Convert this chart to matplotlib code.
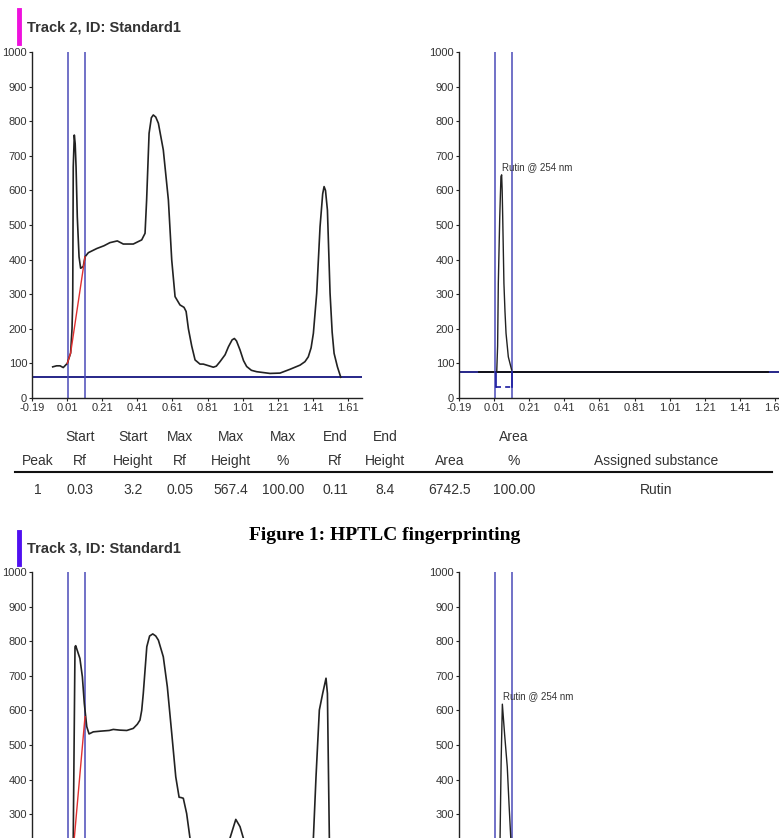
import matplotlib.pyplot as plt
from matplotlib.lines import Line2D

W, H = 779, 838

# ---- data ----
rf_ticks = [-0.19, 0.01, 0.21, 0.41, 0.61, 0.81, 1.01, 1.21, 1.41, 1.61]
rf_labels = ["-0.19", "0.01", "0.21", "0.41", "0.61", "0.81", "1.01", "1.21", "1.41", "1.61"]
au_ticks = [0, 100, 200, 300, 400, 500, 600, 700, 800, 900, 1000]

# Track 2 full scan
t2_rf = [-0.072, -0.05, -0.03, -0.012, 0.011, 0.03, 0.038, 0.042, 0.045, 0.051, 0.056,
         0.061, 0.068, 0.078, 0.087, 0.102, 0.112, 0.131, 0.179, 0.22, 0.254, 0.296,
         0.33, 0.387, 0.435, 0.454, 0.463, 0.477, 0.49, 0.501, 0.515, 0.53, 0.558,
         0.587, 0.606, 0.625, 0.653, 0.676, 0.688, 0.701, 0.72, 0.739, 0.767, 0.786,
         0.824, 0.843, 0.86, 0.881, 0.91, 0.929, 0.95, 0.963, 0.975, 0.995, 1.015,
         1.033, 1.06, 1.09, 1.166, 1.223, 1.28, 1.337, 1.365, 1.384, 1.4, 1.413,
         1.432, 1.451, 1.466, 1.474, 1.482, 1.493, 1.508, 1.52, 1.531, 1.55, 1.569]
t2_h = [90, 93, 93, 88, 100, 130, 200, 283, 668, 760, 735,
        668, 524, 408, 375, 380, 408, 420, 432, 440, 449, 454,
        445, 445, 457, 476, 572, 765, 810, 818, 812, 794, 717,
        572, 399, 293, 269, 262, 250, 200, 150, 110, 98, 98,
        92, 89, 92, 105, 125, 148, 168, 172, 165, 139, 108,
        91, 80, 76, 71, 72, 83, 95, 105, 119, 145, 187,
        303, 495, 590, 611, 600, 543, 303, 190, 129, 90, 60]
t2_base_rf = [0.011, 0.03, 0.112]
t2_base_h = [100, 130, 408]
t2_cut = [0.015, 0.11]
t2_level = 62

# Track 2 rutin peak
r2_rf = [0.025, 0.03, 0.034, 0.042, 0.049, 0.053, 0.056, 0.059, 0.066, 0.072, 0.078, 0.091, 0.11]
r2_h = [76, 150, 331, 520, 640, 645, 600, 524, 331, 250, 187, 119, 81]
r2_level = 76
r2_box = [0.021, 0.11]
r2_box_h = 33

# Track 3 full scan
t3_rf = [-0.072, -0.03, 0.0, 0.015, 0.03, 0.045, 0.055, 0.059, 0.07, 0.083, 0.097,
         0.108, 0.122, 0.135, 0.159, 0.2, 0.25, 0.273, 0.31, 0.35, 0.387, 0.41,
         0.425, 0.435, 0.444, 0.464, 0.48, 0.498, 0.515, 0.53, 0.558, 0.581, 0.606,
         0.629, 0.648, 0.66, 0.672, 0.691, 0.71, 0.73, 0.76, 0.85, 0.9, 0.938,
         0.971, 0.995, 1.014, 1.05, 1.2, 1.35, 1.413, 1.428, 1.447, 1.466, 1.485,
         1.493, 1.498, 1.504, 1.53, 1.57]
t3_h = [95, 95, 95, 105, 120, 231, 784, 787, 770, 750, 697,
        620, 553, 532, 538, 540, 542, 545, 543, 542, 548, 560,
        572, 600, 649, 784, 815, 821, 815, 803, 755, 668, 534,
        408, 349, 348, 346, 302, 231, 150, 110, 100, 130, 231,
        285, 264, 231, 120, 90, 110, 231, 408, 601, 649, 693,
        649, 457, 231, 120, 60]
t3_base_rf = [0.03, 0.112]
t3_base_h = [110, 582]

# Track 3 rutin peak
r3_rf = [0.03, 0.042, 0.044, 0.05, 0.057, 0.07, 0.085, 0.095, 0.105, 0.11, 0.115]
r3_h = [80, 150, 231, 450, 618, 530, 437, 330, 231, 150, 90]

# result table
head_top = ["", "Start", "Start", "Max", "Max", "Max", "End", "End", "", "Area", ""]
head_bot = ["Peak", "Rf", "Height", "Rf", "Height", "%", "Rf", "Height", "Area", "%", "Assigned substance"]
row1 = ["1", "0.03", "3.2", "0.05", "567.4", "100.00", "0.11", "8.4", "6742.5", "100.00", "Rutin"]
col_x = [38, 80, 133, 180, 231, 283, 335, 385, 450, 514, 656]

plt.rcParams["font.family"] = ["Liberation Sans", "DejaVu Sans"]

fig = plt.figure(figsize=(W / 100, H / 100), dpi=100)


def px_axes(x0, y0, x1, y1):
    # pixel box (left, top, right, bottom) -> figure fraction axes
    return fig.add_axes([x0 / W, 1 - y1 / H, (x1 - x0) / W, (y1 - y0) / H])


def ftext(x, y, s, **kw):
    fig.text(x / W, 1 - y / H, s, **kw)


def style(ax, xmax):
    ax.set_xlim(-0.19, xmax)
    ax.set_ylim(0, 1000)
    for s in ("top", "right"):
        ax.spines[s].set_visible(False)
    for s in ("left", "bottom"):
        ax.spines[s].set_color("#222222")
        ax.spines[s].set_linewidth(1.0)
    ax.set_xticks(rf_ticks)
    ax.set_xticklabels(rf_labels)
    ax.set_yticks(au_ticks)
    ax.tick_params(length=2.5, width=0.8, pad=1, labelsize=8, colors="#222222",
                   labelcolor="#333333")
    ax.patch.set_alpha(0)


blue_v = "#4a4ab8"
blue_h = "#15157f"

# ---------- Track 2 ----------
fig.add_artist(Line2D([18.5 / W, 18.5 / W], [1 - 10 / H, 1 - 43 / H], color="#ee11dd", lw=3.5))
ftext(27, 27, "Track 2, ID: Standard1", fontsize=10.5, fontweight="bold", color="#333333", va="center")

ax1 = px_axes(32, 52, 362, 398)
style(ax1, 1.69)
ax1.axhline(t2_level, color=blue_h, lw=1.3)
for c in t2_cut:
    ax1.axvline(c, color=blue_v, lw=1.1)
ax1.plot(t2_rf, t2_h, color="#222222", lw=1.2)
ax1.plot(t2_base_rf, t2_base_h, color="#e03030", lw=1.0)

ax2 = px_axes(459, 52, 800, 398)
style(ax2, 1.753)
ax2.axhline(r2_level, color=blue_h, lw=1.3)
ax2.plot([-0.076, 1.57], [r2_level, r2_level], color="#111111", lw=1.3)
for c in t2_cut:
    ax2.axvline(c, color=blue_v, lw=1.1)
ax2.plot([r2_box[0], r2_box[0]], [r2_level, r2_box_h], color="#1a1aa0", lw=1.2)
ax2.plot([r2_box[1], r2_box[1]], [r2_level, r2_box_h], color="#1a1aa0", lw=1.2)
ax2.plot(r2_box, [r2_box_h, r2_box_h], color="#1a1aa0", lw=1.2, dashes=(3, 2.5))
ax2.plot(r2_rf, r2_h, color="#222222", lw=1.0)
ax2.text(0.055, 668, "Rutin @ 254 nm", fontsize=7, color="#333333", va="center")

# ---------- table ----------
for x, a, b, c in zip(col_x, head_top, head_bot, row1):
    ftext(x, 437, a, fontsize=10, color="#333333", ha="center", va="center")
    ftext(x, 461, b, fontsize=10, color="#333333", ha="center", va="center")
    ftext(x, 490, c, fontsize=10, color="#333333", ha="center", va="center")
fig.add_artist(Line2D([15 / W, 772 / W], [1 - 472 / H, 1 - 472 / H], color="#111111", lw=1.5))

ftext(385, 536, "Figure 1: HPTLC fingerprinting", fontsize=14, fontweight="bold",
      family=["Liberation Serif", "DejaVu Serif"], ha="center", va="center")

# ---------- Track 3 ----------
fig.add_artist(Line2D([18.5 / W, 18.5 / W], [1 - 532 / H, 1 - 564 / H], color="#5010f0", lw=3.5))
ftext(27, 548, "Track 3, ID: Standard1", fontsize=10.5, fontweight="bold", color="#333333", va="center")

ax3 = px_axes(32, 572, 362, 918)
style(ax3, 1.69)
for c in t2_cut:
    ax3.axvline(c, color=blue_v, lw=1.1)
ax3.plot(t3_rf, t3_h, color="#222222", lw=1.2)
ax3.plot(t3_base_rf, t3_base_h, color="#e03030", lw=1.0)

ax4 = px_axes(459, 572, 800, 918)
style(ax4, 1.753)
for c in t2_cut:
    ax4.axvline(c, color=blue_v, lw=1.1)
ax4.plot(r3_rf, r3_h, color="#222222", lw=1.0)
ax4.text(0.058, 642, "Rutin @ 254 nm", fontsize=7, color="#333333", va="center")

fig.savefig("out.png", dpi=100)
